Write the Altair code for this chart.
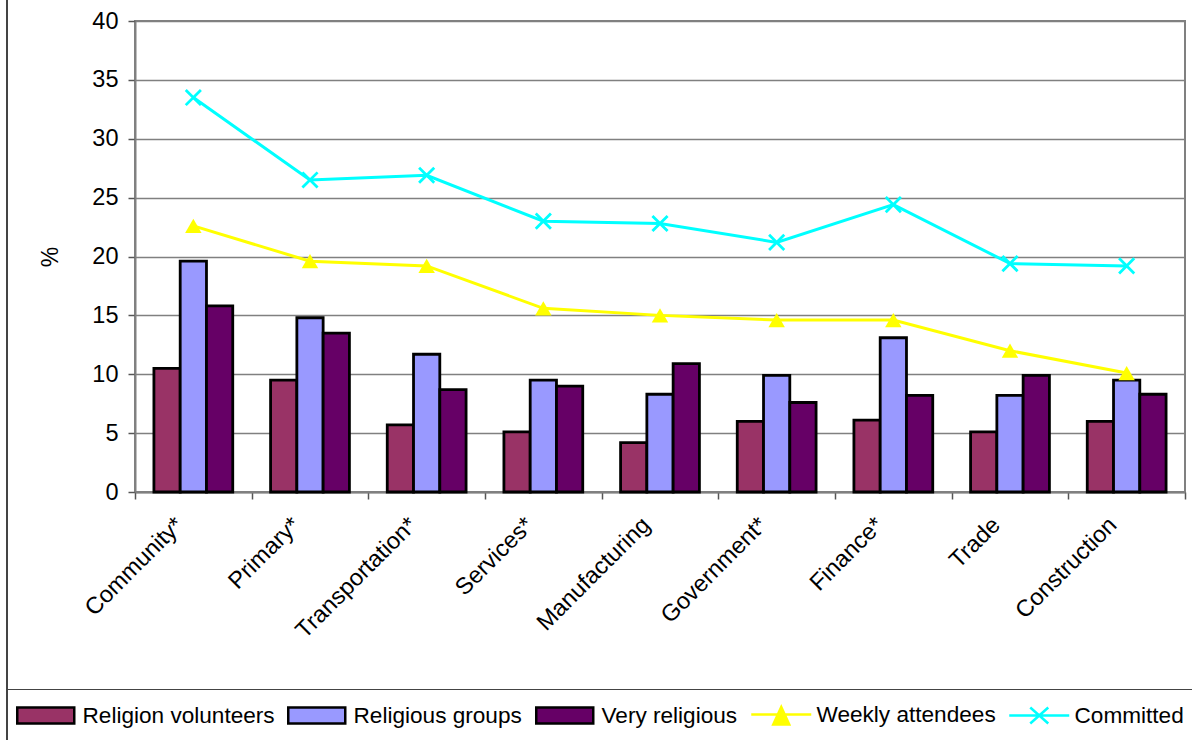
import altair as alt
import pandas as pd

categories = ["Community*", "Primary*", "Transportation*", "Services*", "Manufacturing",
              "Government*", "Finance*", "Trade", "Construction"]
religion_volunteers = [10.5, 9.5, 5.7, 5.1, 4.2, 6.0, 6.1, 5.1, 6.0]
religious_groups = [19.6, 14.8, 11.7, 9.5, 8.3, 9.9, 13.1, 8.2, 9.5]
very_religious = [15.8, 13.5, 8.7, 9.0, 10.9, 7.6, 8.2, 9.9, 8.3]
weekly_attendees = [22.6, 19.6, 19.2, 15.6, 15.0, 14.6, 14.6, 12.0, 10.1]
committed = [33.5, 26.5, 26.9, 23.0, 22.8, 21.2, 24.4, 19.4, 19.2]

bar_series = ["Religion volunteers", "Religious groups", "Very religious"]
line_series = ["Weekly attendees", "Committed"]
all_series = bar_series + line_series
y_ticks = [0, 5, 10, 15, 20, 25, 30, 35, 40]

values = {
    "Religion volunteers": religion_volunteers,
    "Religious groups": religious_groups,
    "Very religious": very_religious,
    "Weekly attendees": weekly_attendees,
    "Committed": committed,
}
rows = []
for s in all_series:
    for c, v in zip(categories, values[s]):
        rows.append({"category": c, "series": s, "value": v})
df = pd.DataFrame(rows)

FONT = "Liberation Sans"

fill_scale = alt.Scale(domain=all_series,
                       range=["#993366", "#9999FF", "#660066", "#FFFF00", "#00FFFF"])
stroke_scale = alt.Scale(domain=all_series,
                         range=["#000000", "#000000", "#000000", "#FFFF00", "#00FFFF"])
rect_sym = "M-1.5,-0.8H4.2V0.8H-1.5Z"
tri_sym = "M-1.5,0H4.5M1.5,-0.75L2.3,1L0.7,1Z"
x_sym = "M-1.5,0H4.5M0.6,-0.8L2.4,0.8M0.6,0.8L2.4,-0.8"
shape_scale = alt.Scale(domain=all_series,
                        range=[rect_sym, rect_sym, rect_sym, tri_sym, x_sym])

legend = alt.Legend(
    title=None, orient="none", legendX=-128, legendY=668, direction="horizontal",
    symbolSize=400, symbolStrokeWidth=2.5, labelOffset=38.75, columnPadding=8,
    padding=13.75, strokeColor="#444444", labelFont=FONT, labelFontSize=22.6,
    labelColor="#000000", labelLimit=400, symbolOpacity=1,
)

x_enc = alt.X("category:N", sort=categories,
              scale=alt.Scale(paddingInner=0, paddingOuter=0),
              axis=alt.Axis(title=None, tickBand="extent", labelAngle=-45,
                            labelAlign="right", labelBaseline="middle",
                            labelOffset=-14, labelPadding=22, tickSize=7,
                            labelFont=FONT, labelFontSize=23.5, labelColor="#000000",
                            domainColor="#808080", domainWidth=2,
                            tickColor="#555555", tickWidth=1.5))
y_enc = alt.Y("value:Q", scale=alt.Scale(domain=[0, 40], nice=False),
              axis=alt.Axis(values=y_ticks, title="%", titleFont=FONT,
                            titleFontSize=23, titleFontWeight="normal",
                            titleColor="#000000", titlePadding=29,
                            labelFont=FONT, labelFontSize=23.5, labelColor="#000000",
                            labelPadding=10, tickSize=7, grid=True,
                            gridColor="#808080", gridWidth=1.3,
                            domainColor="#808080", domainWidth=2,
                            tickColor="#555555", tickWidth=1.5))

base = alt.Chart(df)

bars = base.transform_filter(
    alt.FieldOneOfPredicate(field="series", oneOf=bar_series)
).mark_bar(strokeWidth=2.8, opacity=1).encode(
    x=x_enc,
    y=y_enc,
    xOffset=alt.XOffset("series:N", sort=bar_series,
                        scale=alt.Scale(domain=bar_series, paddingInner=0, paddingOuter=0.72)),
    fill=alt.Fill("series:N", scale=fill_scale, legend=legend),
    stroke=alt.Stroke("series:N", scale=stroke_scale, legend=legend),
)

lines = base.transform_filter(
    alt.FieldOneOfPredicate(field="series", oneOf=line_series)
).mark_line(strokeWidth=3).encode(
    x=alt.X("category:N", sort=categories),
    y=alt.Y("value:Q"),
    stroke=alt.Stroke("series:N", scale=stroke_scale, legend=legend),
)

tris = base.transform_filter(
    alt.datum.series == "Weekly attendees"
).mark_point(shape="triangle-up", filled=True, size=270, color="#FFFF00", opacity=1).encode(
    x=alt.X("category:N", sort=categories),
    y=alt.Y("value:Q"),
)

crosses = base.transform_filter(
    alt.datum.series == "Committed"
).mark_point(shape="M-1,-1L1,1M-1,1L1,-1", filled=False, size=230,
             stroke="#00FFFF", strokeWidth=2.8, opacity=1).encode(
    x=alt.X("category:N", sort=categories),
    y=alt.Y("value:Q"),
)

legend_shapes = base.transform_filter("false").mark_point(opacity=1).encode(
    x=alt.X("category:N", sort=categories),
    y=alt.Y("value:Q"),
    shape=alt.Shape("series:N", scale=shape_scale, legend=legend),
)

frame = alt.Chart(df).mark_rule(color="#444444", strokeWidth=1.5).encode(
    x=alt.value(-128), y=alt.value(-21), y2=alt.value(719)
)

chart = alt.layer(bars, lines, tris, crosses, legend_shapes, frame).properties(
    width=1050, height=471,
    autosize=alt.AutoSizeParams(type="none"),
    padding={"left": 135, "top": 21, "right": 7, "bottom": 248},
    background="#FFFFFF",
).configure_view(stroke="#808080", strokeWidth=2)

chart.save("out.html", embed_options={"renderer": "svg", "actions": False})
